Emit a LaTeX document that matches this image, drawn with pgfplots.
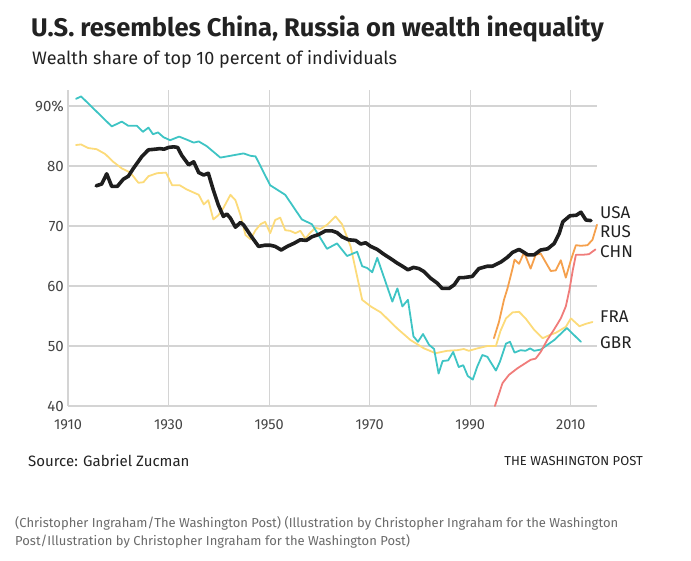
\documentclass[border=0pt]{standalone}
\usepackage{pgfplots}
\pgfplotsset{compat=1.18}
\usepackage{fontspec}
\setmainfont{Fira Sans}
\definecolor{gbr}{HTML}{3EC4C4}
\definecolor{fra}{HTML}{FCDB7A}
\definecolor{usa}{HTML}{1E1E1E}
\definecolor{rus}{HTML}{F5A04C}
\definecolor{chn}{HTML}{F07C7A}
\definecolor{gridc}{HTML}{D4D4D4}
\definecolor{txt}{HTML}{222222}
\definecolor{tick}{HTML}{444444}
\definecolor{cap}{HTML}{6A6A6A}
\begin{document}
\begin{tikzpicture}[x=1pt,y=1pt]
\path[use as bounding box] (0,0) rectangle (691,560);
\begin{axis}[
  at={(68pt,154pt)}, anchor=south west,
  width=529pt, height=316pt, scale only axis,
  xmin=1910, xmax=2015.2, ymin=40, ymax=92.67,
  xtick={1910,1930,1950,1970,1990,2010},
  ytick={40,50,60,70,80,90},
  yticklabels={40,50,60,70,80,90\%},
  grid=major,
  major grid style={draw=gridc, line width=1.1pt},
  axis line style={draw=none},
  tick style={draw=none},
  /pgf/number format/assume math mode=true,
  xticklabel={\pgfmathprintnumber[1000 sep=]{\tick}},
  xticklabel style={font=\fontsize{14.5}{14.5}\selectfont, text=tick, anchor=north, inner sep=0pt, yshift=-13pt},
  yticklabel style={font=\fontsize{15}{15}\selectfont, text=tick, anchor=east, inner sep=0pt, xshift=-4pt},
  clip=false,
  every axis plot/.append style={line join=round, line cap=round},
]
% FRA
\addplot[fra, line width=1.8pt] coordinates {
(1911.6,83.5)(1912.6,83.6)(1914,83)(1915.7,82.8)(1917.4,82)(1919,80.7)(1920.7,79.6)(1922.4,78.9)
(1924,77.2)(1925,77.3)(1926,78.3)(1927.7,78.8)(1929.5,78.9)(1930.7,76.8)(1932.2,76.8)(1933.6,76.1)
(1936,75.2)(1937,73.6)(1937.9,74.3)(1938.9,71.1)(1939.9,71.8)(1940.9,73)(1942.3,75.2)(1943.3,74.3)
(1944.3,71.8)(1945.3,68.5)(1946.3,67.8)(1947.3,69.3)(1948.3,70.3)(1949.2,70.7)(1950.2,68.8)(1951.2,71)
(1952.2,71.4)(1953.2,69.3)(1954.2,69.2)(1955.2,68.8)(1956.2,69.2)(1957.2,67.9)(1958.2,68.9)(1959.2,69.7)
(1960.2,69.5)(1961.5,70.2)(1963.2,71.6)(1964.5,70.3)(1966.2,66.6)(1968.5,57.7)(1970.2,56.6)(1972.2,55.6)
(1975.5,52.9)(1978.1,51)(1980.8,49.6)(1983.1,48.8)(1985.4,49.2)(1987.4,49.3)(1988.7,49.5)(1989.7,49.2)
(1991.4,49.6)(1993.4,50)(1995.1,50)(1996,52.5)(1997.1,54.6)(1998.4,55.6)(1999.7,55.7)(2001,54.6)
(2002.7,52.7)(2004.4,51.3)(2005.7,51.8)(2007,52.2)(2009,53.2)(2010,54.6)(2011.7,53.3)(2013,53.7)(2014.3,54)
};
% GBR
\addplot[gbr, line width=1.8pt] coordinates {
(1911.6,91.2)(1912.6,91.6)(1918.7,86.6)(1920.7,87.4)(1922,86.7)(1923.7,86.7)(1924.9,85.7)(1926,86.4)
(1926.9,85.3)(1927.9,85.6)(1929,84.8)(1930.3,84.3)(1932.1,84.9)(1933.6,84.4)(1935,83.9)(1936,84.1)
(1937.6,83.3)(1940.3,81.4)(1944.9,82.1)(1946.3,81.7)(1947.3,81.6)(1950.2,76.8)(1953.2,75.2)(1956.5,71.1)
(1958.5,70.3)(1961.5,66.2)(1963.5,67.1)(1965.5,65)(1967.5,65.7)(1968.5,63.3)(1969.5,63)(1970.5,62.3)
(1971.5,64.7)(1974.5,57.4)(1975.5,59.6)(1976.5,56.6)(1977.6,57.7)(1978.7,51.6)(1979.6,50.7)(1980.6,52)
(1981.8,50.2)(1982.8,49.5)(1983.7,45.4)(1984.5,47.5)(1985.6,47.6)(1986.6,49)(1987.7,46.5)(1988.6,46.8)
(1989.5,45)(1990.5,44.4)(1991.4,46.6)(1992.4,48.5)(1993.4,48.2)(1994.2,47.1)(1995.1,45.9)(1995.9,47.4)
(1997.1,50.4)(1997.9,50.7)(1998.8,48.9)(2000,49.3)(2001,49.2)(2001.9,49.6)(2002.7,49.2)(2004,49.4)
(2006.7,51)(2009.2,53)(2012,50.7)
};
% CHN
\addplot[chn, line width=1.8pt] coordinates {
(1994.9,40)(1996.4,43.8)(1997.7,45.2)(1999.4,46.3)(2000.7,47)(2002,47.7)(2003,47.9)(2004,49)
(2005.3,51)(2006.7,52.8)(2008,54.6)(2009,56.6)(2009.7,59.3)(2010.4,62.7)(2011,65.2)(2012.3,65.2)
(2013.6,65.3)(2014.9,66.1)
};
% RUS
\addplot[rus, line width=1.8pt] coordinates {
(1994.7,51.3)(1995.7,54)(1996.7,57.7)(1997.4,59.6)(1998.4,62.9)(1998.8,64.4)(1999.7,63.7)(2000.7,65.6)
(2002,62.9)(2003,65.2)(2004,65.4)(2006,62.5)(2007,62.6)(2008,64.3)(2009,61.4)(2010,64.3)(2011,66.8)
(2012,66.7)(2013.3,66.8)(2014.3,67.7)(2015.2,70.2)
};
% USA
\addplot[usa, line width=3.6pt] coordinates {
(1915.6,76.7)(1916.7,77)(1917.7,78.7)(1918.7,76.6)(1919.8,76.6)(1921,77.8)(1922,78.3)(1923,79.6)
(1924.7,81.6)(1926,82.7)(1927.3,82.8)(1928.3,82.9)(1929.1,82.8)(1930,83.1)(1931,83.2)(1931.8,83.1)
(1932.6,81.8)(1934,80.2)(1935,80.7)(1936,78.9)(1937,78.5)(1937.9,78.8)(1938.9,76)(1939.9,73.5)
(1940.9,71.6)(1941.6,72)(1942.3,71.3)(1943.3,69.8)(1944.3,70.6)(1944.9,70.2)(1946.6,68.1)(1947.9,66.6)
(1949.2,66.8)(1950.2,66.8)(1951.2,66.6)(1952.4,66)(1953.6,66.6)(1954.9,67.1)(1956.2,67.7)(1957.4,67.6)
(1958.5,68.2)(1959.9,68.6)(1961.2,69.2)(1962.5,69.2)(1963.5,68.9)(1964.5,68.2)(1965.8,67.7)(1967.2,67.6)
(1968.2,67)(1969.2,67.2)(1970.2,66.6)(1971.5,66.1)(1972.8,65.3)(1974.1,64.6)(1975.5,63.8)(1976.5,63.3)
(1977.6,62.7)(1978.7,63.1)(1979.8,62.9)(1980.8,62.4)(1982.1,61.3)(1983.4,60.5)(1984.4,59.6)(1985.8,59.6)
(1986.8,60.2)(1987.8,61.4)(1988.7,61.4)(1990.4,61.6)(1991.7,62.9)(1993.4,63.3)(1994.4,63.3)(1996.1,64)
(1997.4,64.8)(1998.4,65.6)(1999.7,66.1)(2000.7,65.6)(2001.4,65.2)(2002.7,65.2)(2004,66)(2005.4,66.2)
(2006.7,67.1)(2007.7,68.8)(2008.4,70.7)(2009.8,71.7)(2011.1,71.8)(2012,72.3)(2013,71)(2014,70.9)
};
\end{axis}
% right labels
\begin{scope}[every node/.style={anchor=west, inner sep=0pt, text=txt, font=\fontsize{17}{17}\selectfont}]
\node at (600,347) {USA};
\node at (600,328.3) {RUS};
\node at (600,308.3) {CHN};
\node at (600,243.3) {FRA};
\node at (600,217.3) {GBR};
\end{scope}
% titles
\node[anchor=west, inner sep=0pt, text=txt, font=\fontsize{25.5}{25.5}\selectfont\bfseries] at (31,531) {U.S. resembles China, Russia on wealth inequality};
\node[anchor=west, inner sep=0pt, text=txt, font=\fontsize{18}{18}\selectfont] at (32,501) {Wealth share of top 10 percent of individuals};
\node[anchor=west, inner sep=0pt, text=txt, font=\fontsize{15}{15}\selectfont] at (28,99) {Source: Gabriel Zucman};
\node[anchor=east, inner sep=0pt, text=txt, font=\fontsize{13}{13}\selectfont] at (643,99) {THE WASHINGTON POST};
\node[anchor=west, inner sep=0pt, text=cap, font=\fontsize{13}{13}\selectfont] at (15,37) {(Christopher Ingraham/The Washington Post) (Illustration by Christopher Ingraham for the Washington};
\node[anchor=west, inner sep=0pt, text=cap, font=\fontsize{13}{13}\selectfont] at (15,19) {Post/Illustration by Christopher Ingraham for the Washington Post)};
\end{tikzpicture}
\end{document}
